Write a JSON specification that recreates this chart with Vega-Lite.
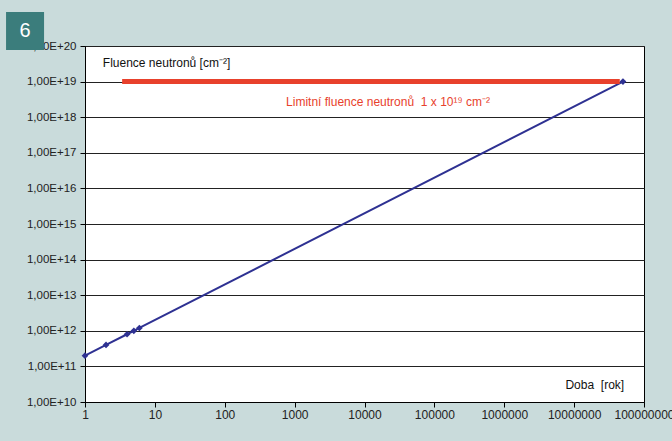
{
  "$schema": "https://vega.github.io/schema/vega-lite/v6.json",
  "width": 559,
  "height": 356,
  "autosize": {"type": "none"},
  "padding": {"left": 85, "top": 46, "right": 28, "bottom": 39},
  "background": "#c9dbdb",
  "config": {
    "view": {"fill": "white", "stroke": "black", "strokeWidth": 1},
    "font": "Liberation Sans",
    "text": {"font": "Liberation Sans"}
  },
  "datasets": {
    "series": [
      {"t": 1, "f": 2e11},
      {"t": 2, "f": 4e11},
      {"t": 4, "f": 8e11},
      {"t": 5, "f": 1e12},
      {"t": 6, "f": 1.2e12},
      {"t": 50000000, "f": 1e19}
    ],
    "limit": [{"t1": 3.4, "t2": 45000000, "f": 1e19}],
    "ytitle": [{"t": 1.8, "f": 3.3e19, "label": "Fluence neutronů [cm⁻²]"}],
    "xtitle": [{"t": 5.2e7, "f": 3.0e10, "label": "Doba\u00a0\u00a0[rok]"}],
    "limitnote": [{"t": 21700, "f": 2.7e18, "label": "Limitní fluence neutronů\u00a0\u00a01 x 10¹⁹ cm⁻²"}],
    "badge": [{"t": 0.1387, "f": 2.64e20, "label": "6"}]
  },
  "layer": [
    {
      "data": {"name": "series"},
      "mark": {"type": "line", "color": "#2e3192", "strokeWidth": 2, "point": {"shape": "diamond", "size": 45, "color": "#2e3192", "filled": true}},
      "encoding": {
        "x": {
          "field": "t", "type": "quantitative",
          "scale": {"type": "log", "domain": [1, 100000000], "nice": false},
          "axis": {
            "title": null, "grid": false, "format": "d",
            "values": [1, 10, 100, 1000, 10000, 100000, 1000000, 10000000, 100000000],
            "labelFontSize": 12, "labelColor": "#222", "tickColor": "black", "tickSize": 5,
            "domainColor": "black", "labelPadding": 2, "labelFlush": false, "labelOverlap": false
          }
        },
        "y": {
          "field": "f", "type": "quantitative",
          "scale": {"type": "log", "domain": [1e10, 1e20], "nice": false},
          "axis": {
            "title": null, "grid": true, "gridColor": "#222", "gridWidth": 1,
            "values": [1e10, 1e11, 1e12, 1e13, 1e14, 1e15, 1e16, 1e17, 1e18, 1e19, 1e20],
            "labelExpr": "'1,00E+' + round(log(datum.value)/LN10)",
            "labelFontSize": 11.5, "labelColor": "#222", "tickColor": "black", "tickSize": 5,
            "domainColor": "black", "labelPadding": 4, "labelFlush": false, "labelOverlap": false
          }
        }
      }
    },
    {
      "data": {"name": "limit"},
      "mark": {"type": "rule", "color": "#e8412c", "strokeWidth": 5},
      "encoding": {
        "x": {"field": "t1", "type": "quantitative"},
        "x2": {"field": "t2"},
        "y": {"field": "f", "type": "quantitative"}
      }
    },
    {
      "data": {"name": "ytitle"},
      "mark": {"type": "text", "fontSize": 12, "color": "#111", "baseline": "middle", "align": "left"},
      "encoding": {
        "x": {"field": "t", "type": "quantitative"},
        "y": {"field": "f", "type": "quantitative"},
        "text": {"field": "label"}
      }
    },
    {
      "data": {"name": "xtitle"},
      "mark": {"type": "text", "fontSize": 12, "color": "#111", "baseline": "middle", "align": "right"},
      "encoding": {
        "x": {"field": "t", "type": "quantitative"},
        "y": {"field": "f", "type": "quantitative"},
        "text": {"field": "label"}
      }
    },
    {
      "data": {"name": "limitnote"},
      "mark": {"type": "text", "fontSize": 12, "color": "#e8412c", "baseline": "middle", "align": "center"},
      "encoding": {
        "x": {"field": "t", "type": "quantitative"},
        "y": {"field": "f", "type": "quantitative"},
        "text": {"field": "label"}
      }
    },
    {
      "data": {"name": "badge"},
      "mark": {"type": "square", "color": "#3b7d7c", "size": 1444, "opacity": 1, "filled": true},
      "encoding": {
        "x": {"field": "t", "type": "quantitative"},
        "y": {"field": "f", "type": "quantitative"}
      }
    },
    {
      "data": {"name": "badge"},
      "mark": {"type": "text", "fontSize": 20, "color": "white", "baseline": "middle", "align": "center"},
      "encoding": {
        "x": {"field": "t", "type": "quantitative"},
        "y": {"field": "f", "type": "quantitative"},
        "text": {"field": "label"}
      }
    }
  ]
}
